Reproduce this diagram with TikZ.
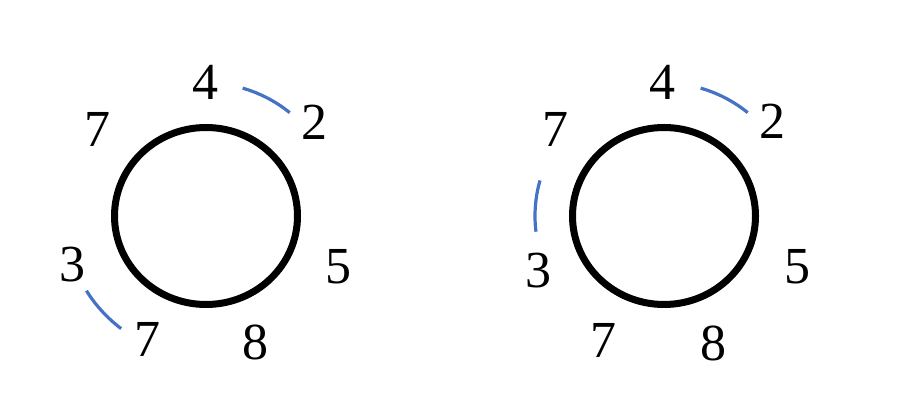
\documentclass[tikz,border=0pt]{standalone}
\usepackage{fontspec}
\setmainfont{Liberation Serif}
\usepackage{tikz}
\usetikzlibrary{positioning, calc}
\definecolor{enlace}{RGB}{68,114,196}

\tikzset{
  cifra/.style={inner sep=0pt, font=\fontsize{52}{54}\selectfont},
  anillo/.style={line width=7pt, black},
  enlaceazul/.style={enlace, line width=3.2pt}
}

\begin{document}
\begin{tikzpicture}[x=1pt, y=1pt]
    \useasboundingbox (0,0) rectangle (901,417);

    % collar izquierdo
    \coordinate (cI) at (206,201);
    \draw[anillo] (cI) ellipse [x radius=91.5, y radius=88.5];
    \foreach \nom/\x/\y/\txt in {i4/205/335/4, i2/314/295/2, i7a/97/288/7,
        i3/72/152/3, i5/338/150/5, i7b/147/78/7, i8/255/75/8}
      \node[cifra] (\nom) at (\x,\y) {\txt};
    \draw[enlaceazul] ([shift={(74:133)}]cI) arc (74:51:133);
    \draw[enlaceazul] ([shift={(212:141)}]cI) arc (212:233:141);

    % collar derecho
    \coordinate (cD) at (664,201);
    \draw[anillo] (cD) ellipse [x radius=91.5, y radius=88.5];
    \foreach \nom/\x/\y/\txt in {d4/662/335/4, d2/772/296/2, d7a/555/288/7,
        d3/538/146/3, d5/797/150/5, d7b/603/77/7, d8/713/74/8}
      \node[cifra] (\nom) at (\x,\y) {\txt};
    \draw[enlaceazul] ([shift={(74:133)}]cD) arc (74:51:133);
    \draw[enlaceazul] ([shift={(164:129)}]cD) arc (164:187:129);
\end{tikzpicture}
\end{document}
